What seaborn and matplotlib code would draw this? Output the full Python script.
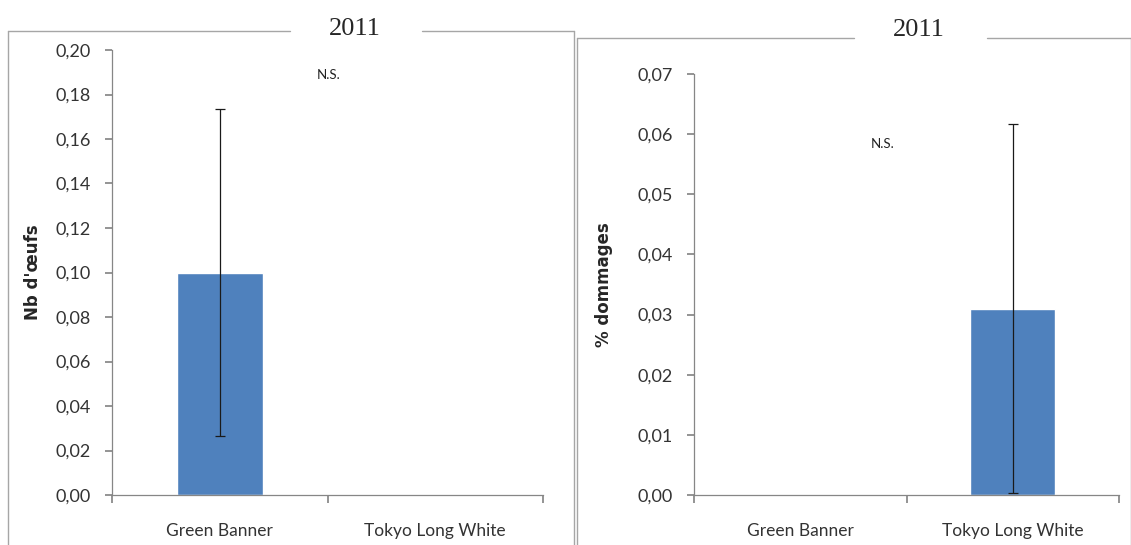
import numpy as np
import pandas as pd
import seaborn as sns
import matplotlib
matplotlib.use("Agg")
import matplotlib.pyplot as plt
from matplotlib.lines import Line2D

# data
varietes = ["Green Banner", "Tokyo Long White"]
oeufs = [0.10, 0.0]
oeufs_err = [0.0735, 0.0]
dommages = [0.0, 0.031]
dommages_err = [0.0, 0.0307]
annee = "2011"

sns.set_theme(style="white")
plt.rcParams['font.family'] = ['Lato', 'DejaVu Sans']

fig = plt.figure(figsize=(11.31, 5.45), dpi=100)
W, H = 1131, 545

def px(x, y):
    return x / W, 1 - y / H

def panel(box, vals, errs, ylim, step, ylabel, lpad, ns_xy, title_xy, frame):
    x0p, y0p, x1p, y1p = box
    ax = fig.add_axes([x0p / W, 1 - y1p / H, (x1p - x0p) / W, (y1p - y0p) / H])
    df = pd.DataFrame({"var": varietes, "val": vals})
    sns.barplot(data=df, x="var", y="val", color="#4f81bd", width=0.40,
                saturation=1, ax=ax, errorbar=None)
    for i, (v, e) in enumerate(zip(vals, errs)):
        if e > 0:
            ax.errorbar(i, v, yerr=e, fmt="none", ecolor="#1a1a1a",
                        elinewidth=0.9, capsize=3.5, capthick=0.9)
    ax.set_xlim(-0.5, 1.5)
    ax.set_ylim(*ylim)
    ticks = np.arange(0, ylim[1] + step / 2, step)
    ax.set_yticks(ticks)
    ax.set_yticklabels([f"{t:.2f}".replace(".", ",") for t in ticks])
    ax.set_xticks([-0.5, 0.5, 1.5], minor=False)
    ax.set_xticklabels(["", "", ""])
    ax.set_xticks([0, 1], minor=True)
    ax.set_xticklabels(varietes, minor=True)
    ax.tick_params(axis="x", which="major", direction="out", length=6,
                   color="#868686", bottom=True)
    ax.tick_params(axis="x", which="minor", length=0, pad=20, labelsize=12.5,
                   labelcolor="#333333")
    ax.tick_params(axis="y", direction="out", length=5, color="#868686",
                   left=True, labelsize=13, labelcolor="#333333", pad=10)
    for s in ["top", "right"]:
        ax.spines[s].set_visible(False)
    for s in ["left", "bottom"]:
        ax.spines[s].set_color("#868686")
        ax.spines[s].set_linewidth(0.9)
    ax.set_xlabel("")
    ax.set_ylabel(ylabel, fontsize=12, fontweight="bold",
                  family=["DejaVu Sans"], labelpad=lpad)
    ax.text(ns_xy[0], ns_xy[1], "N.S.", fontsize=9.5, color="#222222",
            va="center", transform=ax.transData)
    # frame around the panel, interrupted by the year
    fx0, fy0, fx1, gap0, gap1 = frame
    col = "#a6a6a6"
    fig.add_artist(Line2D(*zip(px(fx0, fy0), px(gap0, fy0)), color=col, lw=1))
    fig.add_artist(Line2D(*zip(px(gap1, fy0), px(fx1, fy0)), color=col, lw=1))
    fig.add_artist(Line2D(*zip(px(fx0, fy0), px(fx0, 545)), color=col, lw=1))
    fig.add_artist(Line2D(*zip(px(fx1, fy0), px(fx1, 545)), color=col, lw=1))
    tx, ty = px(*title_xy)
    fig.text(tx, ty, annee, ha="center", va="center", fontsize=19,
             family=["Liberation Serif"])
    return ax

panel((112, 50, 543, 495), oeufs, oeufs_err, (0, 0.20), 0.02,
      "Nb d'œufs", 10, (0.451, 0.1888), (355, 29),
      (8, 31, 574, 290, 422))
panel((694, 74, 1119, 495), dommages, dommages_err, (0, 0.07), 0.01,
      "% dommages", 18, (0.33, 0.0584), (919, 30),
      (577, 38, 1131, 854, 987))

fig.savefig("out.png", dpi=100)
